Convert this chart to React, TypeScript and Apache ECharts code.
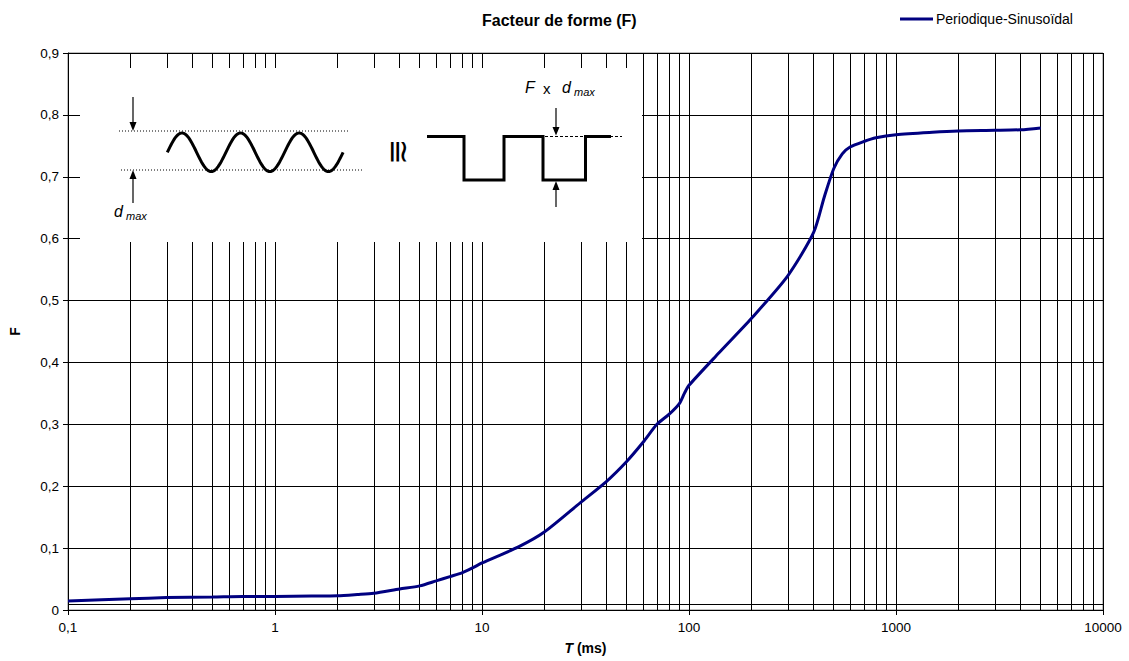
import React, { useEffect, useRef } from 'react';
import * as echarts from 'echarts';

const TITLE = 'Facteur de forme (F)';
const SERIES_NAME = 'Periodique-Sinusoïdal';
const X_NAME = '{i|T} (ms)';
const Y_NAME = 'F';

// Period T (ms) and form factor F
const T_MS = [
  0.1, 0.2, 0.3, 0.5, 0.7, 1, 1.5, 2, 2.5, 3, 4, 5, 6, 7, 8, 9, 10, 15, 20, 30, 40, 50, 60,
  70, 80, 90, 95, 100, 140, 200, 300, 400, 450, 500, 550, 600, 700, 800, 1000, 1500, 2000,
  3000, 4000, 5000,
];
const F_VALUES = [
  0.0145, 0.018, 0.02, 0.021, 0.022, 0.022, 0.0225, 0.023, 0.025, 0.027, 0.034, 0.039,
  0.047, 0.054, 0.06, 0.068, 0.076, 0.102, 0.126, 0.174, 0.208, 0.24, 0.271, 0.3, 0.316,
  0.334, 0.35, 0.363, 0.416, 0.471, 0.54, 0.61, 0.667, 0.713, 0.737, 0.748, 0.757, 0.763,
  0.768, 0.772, 0.774, 0.775, 0.776, 0.779,
];

const X_DECADES = [0.1, 1, 10, 100, 1000, 10000];
const Y_MIN = 0;
const Y_MAX = 0.9;
const Y_STEP = 0.1;

const FONT = '"Liberation Sans", Arial, sans-serif';

function buildInset(): any[] {
  const els: any[] = [];
  const blk = '#000';
  els.push({ type: 'rect', shape: { x: 80, y: 68, width: 562, height: 174 }, style: { fill: '#fff' } });
  els.push({ type: 'line', shape: { x1: 119, y1: 131, x2: 348, y2: 131 }, style: { stroke: blk, lineWidth: 1, lineDash: [1, 2] } });
  els.push({ type: 'line', shape: { x1: 121, y1: 170, x2: 362, y2: 170 }, style: { stroke: blk, lineWidth: 1, lineDash: [1, 2] } });
  els.push({ type: 'line', shape: { x1: 133, y1: 97, x2: 133, y2: 124 }, style: { stroke: blk, lineWidth: 1.2 } });
  els.push({ type: 'polygon', shape: { points: [[129.5, 122], [136.5, 122], [133, 131]] }, style: { fill: blk } });
  els.push({ type: 'line', shape: { x1: 133, y1: 177, x2: 133, y2: 203 }, style: { stroke: blk, lineWidth: 1.2 } });
  els.push({ type: 'polygon', shape: { points: [[129.5, 179], [136.5, 179], [133, 170]] }, style: { fill: blk } });
  const pts: number[][] = [];
  const x0 = 167.3, period = 58.6, mid = 152.3, amp = 19.3;
  for (let i = 0; i <= 180; i++) {
    const ph = (i / 180) * 3 * 2 * Math.PI;
    pts.push([x0 + (ph / (2 * Math.PI)) * period, mid - amp * Math.sin(ph)]);
  }
  els.push({ type: 'polyline', shape: { points: pts }, style: { stroke: blk, lineWidth: 3, fill: null } });
  els.push({ type: 'text', x: 114, y: 211, style: { text: 'd', font: `italic 16px ${FONT}`, fill: blk, verticalAlign: 'middle' } });
  els.push({ type: 'text', x: 126, y: 216, style: { text: 'max', font: `italic 11px ${FONT}`, fill: blk, verticalAlign: 'middle' } });
  els.push({ type: 'text', x: 399, y: 152, rotation: -Math.PI / 2, style: { text: '≅', font: `31px "DejaVu Sans"`, fill: blk, align: 'center', verticalAlign: 'middle' } });
  const hi = 136.5, lo = 180;
  els.push({
    type: 'polyline',
    shape: { points: [[427, hi], [464, hi], [464, lo], [504, lo], [504, hi], [543, hi], [543, lo], [585.5, lo], [585.5, hi], [611, hi]] },
    style: { stroke: blk, lineWidth: 3, fill: null, lineJoin: 'miter' },
  });
  els.push({ type: 'line', shape: { x1: 545, y1: hi, x2: 622, y2: hi }, style: { stroke: blk, lineWidth: 1, lineDash: [3, 2] } });
  els.push({ type: 'line', shape: { x1: 556, y1: 108, x2: 556, y2: 129 }, style: { stroke: blk, lineWidth: 1.2 } });
  els.push({ type: 'polygon', shape: { points: [[552.5, 127], [559.5, 127], [556, hi - 1]] }, style: { fill: blk } });
  els.push({ type: 'line', shape: { x1: 556, y1: 188, x2: 556, y2: 207 }, style: { stroke: blk, lineWidth: 1.2 } });
  els.push({ type: 'polygon', shape: { points: [[552.5, 190], [559.5, 190], [556, lo + 1]] }, style: { fill: blk } });
  els.push({ type: 'text', x: 525, y: 87, style: { text: 'F', font: `italic 16px ${FONT}`, fill: blk, verticalAlign: 'middle' } });
  els.push({ type: 'text', x: 543, y: 88, style: { text: 'x', font: `15px ${FONT}`, fill: blk, verticalAlign: 'middle' } });
  els.push({ type: 'text', x: 562, y: 87, style: { text: 'd', font: `italic 16px ${FONT}`, fill: blk, verticalAlign: 'middle' } });
  els.push({ type: 'text', x: 574, y: 92, style: { text: 'max', font: `italic 11px ${FONT}`, fill: blk, verticalAlign: 'middle' } });
  return els.map((e) => ({ ...e, z: 100, silent: true }));
}

export default function App() {
  const ref = useRef<HTMLDivElement>(null);
  useEffect(() => {
    if (!ref.current) return;
    const chart = echarts.init(ref.current, null, { renderer: 'svg' });
    const minorX: number[] = [];
    for (const d of X_DECADES.slice(0, -1)) {
      for (let k = 2; k <= 9; k++) minorX.push(+(k * d).toPrecision(3));
    }
    const gridMarks: any[] = minorX.map((v) => ({ xAxis: v }));
    gridMarks.push({ yAxis: 0.01 });
    const data = T_MS.map((t, i) => [t, F_VALUES[i]]);
    const fmtX = (v: number) => String(+v.toPrecision(6)).replace('.', ',');
    const fmtY = (v: number) => {
      const r = Math.round(v * 10) / 10;
      return r === 0 ? '0' : r.toFixed(1).replace('.', ',');
    };
    const option: any = {
      animation: false,
      backgroundColor: '#fff',
      textStyle: { fontFamily: FONT },
      title: {
        text: TITLE,
        left: 482,
        top: 12,
        padding: 0,
        textStyle: { fontSize: 16, fontWeight: 'bold', color: '#000', fontFamily: FONT },
      },
      legend: {
        data: [SERIES_NAME],
        left: 900,
        top: 12,
        padding: 0,
        icon: 'rect',
        itemWidth: 33,
        itemHeight: 3,
        itemGap: 4,
        textStyle: { fontSize: 14, color: '#000', fontFamily: FONT, padding: [0, 0, 0, -2] },
      },
      grid: {
        left: 68,
        right: 26,
        top: 53,
        bottom: 51,
        show: true,
        borderColor: '#808080',
        borderWidth: 1,
      },
      xAxis: {
        type: 'log',
        logBase: 10,
        min: X_DECADES[0],
        max: X_DECADES[X_DECADES.length - 1],
        name: X_NAME,
        nameLocation: 'middle',
        nameGap: 31,
        nameTextStyle: {
          fontSize: 14,
          fontWeight: 'bold',
          color: '#000',
          fontFamily: FONT,
          rich: { i: { fontStyle: 'italic', fontWeight: 'bold', fontSize: 14, fontFamily: FONT, color: '#000' } },
        },
        axisLine: { show: true, lineStyle: { color: '#000', width: 1 } },
        axisTick: { show: true, inside: false, length: 5, lineStyle: { color: '#000' } },
        axisLabel: { fontSize: 13.5, color: '#000', margin: 10, formatter: fmtX, fontFamily: FONT },
        splitLine: { show: true, lineStyle: { color: '#000', width: 1 } },
      },
      yAxis: {
        type: 'value',
        min: Y_MIN,
        max: Y_MAX,
        interval: Y_STEP,
        name: Y_NAME,
        nameLocation: 'middle',
        nameGap: 46,
        nameTextStyle: { fontSize: 14, fontWeight: 'bold', color: '#000', fontFamily: FONT },
        axisLine: { show: true, lineStyle: { color: '#000', width: 1 } },
        axisTick: { show: true, inside: false, length: 5, lineStyle: { color: '#000' } },
        axisLabel: { fontSize: 13.5, color: '#000', margin: 9, formatter: fmtY, fontFamily: FONT },
        splitLine: { show: true, lineStyle: { color: '#000', width: 1 } },
      },
      series: [
        {
          name: 'grid-minor',
          type: 'line',
          data: [],
          z: 1,
          silent: true,
          markLine: {
            silent: true,
            symbol: ['none', 'none'],
            label: { show: false },
            lineStyle: { color: '#000', width: 1, type: 'solid' },
            emphasis: { disabled: true },
            data: gridMarks,
          },
        },
        {
          name: SERIES_NAME,
          type: 'line',
          data,
          z: 5,
          showSymbol: false,
          symbol: 'none',
          smooth: 0.25,
          lineStyle: { color: '#000080', width: 3 },
          itemStyle: { color: '#000080' },
        },
      ],
      graphic: { elements: buildInset() },
    };
    chart.setOption(option);
    return () => chart.dispose();
  }, []);
  return <div ref={ref} style={{ position: 'fixed', left: 0, top: 0, width: 1129, height: 661 }} />;
}
